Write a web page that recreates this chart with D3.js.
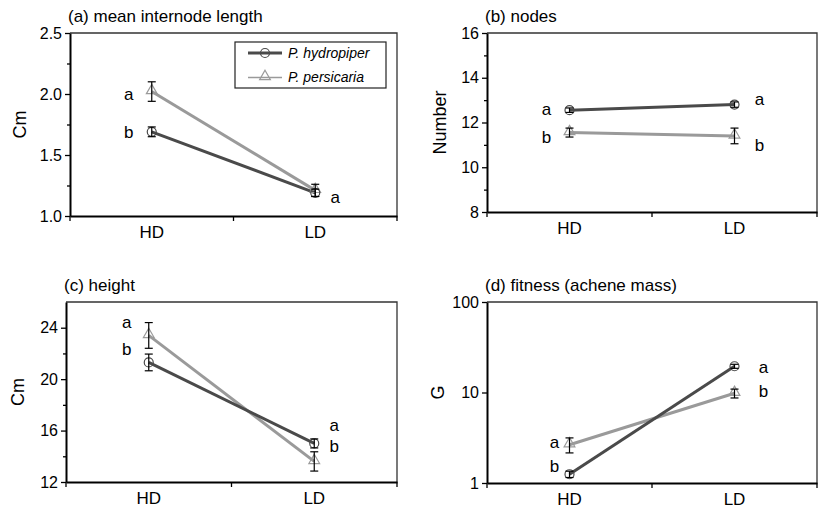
<!DOCTYPE html>
<html>
<head>
<meta charset="utf-8">
<script src="https://cdn.jsdelivr.net/npm/d3@7"></script>
<style>
  body { margin: 0; background: #fff; }
  text { font-family: Arial, "Liberation Sans", sans-serif; }
</style>
</head>
<body>
<div id="container"></div>
<script>
// categories on the x axis
let categories = ["HD", "LD"];

// (a) mean internode length, cm
let internodeHydro = [1.69, 1.19];
let internodeHydroErr = [0.04, 0.03];
let internodePers = [2.02, 1.21];
let internodePersErr = [0.08, 0.05];

// (b) nodes
let nodesHydro = [12.55, 12.8];
let nodesHydroErr = [0.1, 0.12];
let nodesPers = [11.55, 11.4];
let nodesPersErr = [0.2, 0.35];

// (c) height, cm
let heightHydro = [21.3, 15.0];
let heightHydroErr = [0.65, 0.35];
let heightPers = [23.4, 13.6];
let heightPersErr = [1.0, 0.75];

// (d) fitness (achene mass), g  (log scale)
let fitnessHydro = [1.25, 19.5];
let fitnessHydroErr = [0.1, 1.0];
let fitnessPers = [2.65, 9.8];
let fitnessPersErr = [0.5, 1.1];

// significance letters [HD, LD] for each species
let lettersHydro = { a: ["b", "a"], b: ["a", "a"], c: ["b", "a"], d: ["b", "a"] };
let lettersPers  = { a: ["a", "a"], b: ["b", "b"], c: ["a", "b"], d: ["a", "b"] };

let speciesNames = ["P. hydropiper", "P. persicaria"];

let w = 818;
let h = 510;
let darkColor = "#4a4a4a";
let lightColor = "#9a9a9a";

let viz = d3.select("#container")
  .append("svg")
    .attr("width", w)
    .attr("height", h)
    .style("display", "block")
;

// panel layout
let panels = [
  { id: "a", title: "(a) mean internode length", ylabel: "Cm",
    box: [70, 33, 397, 216], domain: [1, 2.5], log: false,
    major: [1.0, 1.5, 2.0, 2.5], minor: [1.25, 1.75, 2.25], fmt: d3.format(".1f"),
    hydro: internodeHydro, hydroErr: internodeHydroErr, pers: internodePers, persErr: internodePersErr,
    notes: [ {cat: 0, y: 1.99, dx: -23, t: lettersPers.a[0]}, {cat: 0, y: 1.68, dx: -23, t: lettersHydro.a[0]},
             {cat: 1, y: 1.15, dx: 20, t: lettersHydro.a[1]} ],
    ylabX: 20, legend: true },
  { id: "b", title: "(b) nodes", ylabel: "Number",
    box: [487, 33, 817, 212], domain: [8, 16], log: false,
    major: [8, 10, 12, 14, 16], minor: [9, 11, 13, 15], fmt: d3.format("d"),
    hydro: nodesHydro, hydroErr: nodesHydroErr, pers: nodesPers, persErr: nodesPersErr,
    notes: [ {cat: 0, y: 12.57, dx: -23, t: lettersHydro.b[0]}, {cat: 0, y: 11.32, dx: -23, t: lettersPers.b[0]},
             {cat: 1, y: 13.0, dx: 25, t: lettersHydro.b[1]}, {cat: 1, y: 10.97, dx: 25, t: lettersPers.b[1]} ],
    ylabX: 440 },
  { id: "c", title: "(c) height", ylabel: "Cm",
    box: [66, 302, 397, 482], domain: [12, 26], log: false,
    major: [12, 16, 20, 24], minor: [14, 18, 22], fmt: d3.format("d"),
    hydro: heightHydro, hydroErr: heightHydroErr, pers: heightPers, persErr: heightPersErr,
    notes: [ {cat: 0, y: 24.4, dx: -22, t: lettersPers.c[0]}, {cat: 0, y: 22.3, dx: -22, t: lettersHydro.c[0]},
             {cat: 1, y: 16.4, dx: 20, t: lettersHydro.c[1]}, {cat: 1, y: 14.76, dx: 20, t: lettersPers.c[1]} ],
    ylabX: 18 },
  { id: "d", title: "(d) fitness (achene mass)", ylabel: "G",
    box: [487, 302, 817, 483], domain: [1, 100], log: true,
    major: [1, 10, 100], minor: [], fmt: d3.format("d"),
    hydro: fitnessHydro, hydroErr: fitnessHydroErr, pers: fitnessPers, persErr: fitnessPersErr,
    notes: [ {cat: 0, y: 2.8, dx: -15, t: lettersPers.d[0]}, {cat: 0, y: 1.49, dx: -15, t: lettersHydro.d[0]},
             {cat: 1, y: 18.7, dx: 29, t: lettersHydro.d[1]}, {cat: 1, y: 10.1, dx: 29, t: lettersPers.d[1]} ],
    ylabX: 438 }
];

panels.forEach(drawPanel);

function drawPanel(p){
  let [x0, y0, x1, y1] = p.box;
  let g = viz.append("g").attr("class", "panel-" + p.id);

  let xScale = d3.scaleBand().domain(categories).range([x0, x1]);
  let xc = function(i){ return xScale(categories[i]) + xScale.bandwidth() / 2; };
  let yScale = (p.log ? d3.scaleLog() : d3.scaleLinear()).domain(p.domain).range([y1, y0]);

  // frame top and right
  g.append("path")
    .attr("d", "M" + x0 + "," + y0 + "H" + x1 + "V" + y1)
    .attr("fill", "none").attr("stroke", "#333").attr("stroke-width", 1.3);

  // y axis
  let yAxis = d3.axisLeft(yScale).tickValues(p.major).tickFormat(p.fmt)
    .tickSize(5).tickSizeOuter(0).tickPadding(3);
  let yg = g.append("g").attr("transform", "translate(" + x0 + ",0)").call(yAxis);
  yg.select(".domain").attr("stroke", "#000").attr("stroke-width", 2);
  yg.selectAll(".tick line").attr("stroke", "#000").attr("stroke-width", 1.3);
  yg.selectAll("text").style("font-size", "16px").attr("fill", "#000");

  if (p.minor.length){
    let yMinor = d3.axisLeft(yScale).tickValues(p.minor).tickFormat("").tickSize(3).tickSizeOuter(0);
    let ym = g.append("g").attr("transform", "translate(" + x0 + ",0)").call(yMinor);
    ym.select(".domain").remove();
    ym.selectAll(".tick line").attr("stroke", "#000").attr("stroke-width", 1.3);
  }

  // x axis (labels centered on bands, ticks on band edges)
  let xAxis = d3.axisBottom(xScale).tickSize(0).tickPadding(10);
  let xg = g.append("g").attr("transform", "translate(0," + y1 + ")").call(xAxis);
  xg.select(".domain").attr("stroke", "#000").attr("stroke-width", 2);
  xg.selectAll("text").style("font-size", "17px").attr("fill", "#000");
  let edges = categories.map(function(c){ return xScale(c); }).concat([x1]);
  g.selectAll(".xedge").data(edges).enter()
    .append("line")
      .attr("x1", function(d){ return d; }).attr("x2", function(d){ return d; })
      .attr("y1", y1).attr("y2", y1 + 5)
      .attr("stroke", "#000").attr("stroke-width", 1.3);

  // title
  g.append("text")
    .attr("x", x0 - 2).attr("y", y0 - 11)
    .style("font-size", "17px")
    .text(p.title);

  // y label
  g.append("text")
    .attr("transform", "translate(" + p.ylabX + "," + ((y0 + y1) / 2) + ") rotate(-90)")
    .attr("text-anchor", "middle")
    .attr("dy", "0.35em")
    .style("font-size", "18px")
    .text(p.ylabel);

  let lineMaker = d3.line()
    .x(function(d, i){ return xc(i); })
    .y(function(d){ return yScale(d); });

  let series = [
    { vals: p.pers, err: p.persErr, color: lightColor, shape: "tri" },
    { vals: p.hydro, err: p.hydroErr, color: darkColor, shape: "circ" }
  ];

  series.forEach(function(s){
    g.append("path")
      .datum(s.vals)
      .attr("d", lineMaker)
      .attr("fill", "none")
      .attr("stroke", s.color)
      .attr("stroke-width", 3);
  });

  series.forEach(function(s){
    drawMarkers(g, s.vals.map(function(v, i){ return [xc(i), yScale(v)]; }), s.shape, s.color);
  });

  // error bars
  series.forEach(function(s){
    let eg = g.append("g");
    s.vals.forEach(function(v, i){
      let x = xc(i);
      let yt = yScale(v + s.err[i]);
      let yb = yScale(v - s.err[i]);
      eg.append("line").attr("x1", x).attr("x2", x).attr("y1", yt).attr("y2", yb)
        .attr("stroke", "#000").attr("stroke-width", 1.2);
      [yt, yb].forEach(function(yy){
        eg.append("line").attr("x1", x - 4).attr("x2", x + 4).attr("y1", yy).attr("y2", yy)
          .attr("stroke", "#000").attr("stroke-width", 1.2);
      });
    });
  });

  // letters
  g.selectAll(".note").data(p.notes).enter()
    .append("text")
      .attr("x", function(d){ return xc(d.cat) + d.dx; })
      .attr("y", function(d){ return yScale(d.y); })
      .attr("dy", "0.3em")
      .attr("text-anchor", "middle")
      .style("font-size", "17px")
      .text(function(d){ return d.t; });

  if (p.legend){
    let lg = g.append("g");
    lg.append("rect").attr("x", 235).attr("y", 42).attr("width", 151).attr("height", 46)
      .attr("fill", "#fff").attr("stroke", "#222").attr("stroke-width", 1.2);
    let items = [
      { name: speciesNames[0], color: darkColor, shape: "circ", width: 3 },
      { name: speciesNames[1], color: lightColor, shape: "tri", width: 1.5 }
    ];
    items.forEach(function(it, i){
      let yy = 53 + i * 24.5;
      lg.append("line").attr("x1", 248).attr("x2", 282).attr("y1", yy).attr("y2", yy)
        .attr("stroke", it.color).attr("stroke-width", it.width);
      drawMarkers(lg, [[265, yy]], it.shape, it.color);
      lg.append("text").attr("x", 288).attr("y", yy).attr("dy", "0.35em")
        .style("font-size", "14px").style("font-style", "italic")
        .text(it.name);
    });
  }
}

function drawMarkers(g, pts, shape, color){
  if (shape === "circ"){
    g.selectAll(null).data(pts).enter().append("circle")
      .attr("cx", function(d){ return d[0]; }).attr("cy", function(d){ return d[1]; })
      .attr("r", 4.5).attr("fill", "none").attr("stroke", color).attr("stroke-width", 1.2);
  } else {
    let tri = d3.symbol().type(d3.symbolTriangle).size(50);
    g.selectAll(null).data(pts).enter().append("path")
      .attr("d", tri)
      .attr("transform", function(d){ return "translate(" + d[0] + "," + (d[1] - 1) + ")"; })
      .attr("fill", "none").attr("stroke", color).attr("stroke-width", 1.2);
  }
}
</script>
</body>
</html>
